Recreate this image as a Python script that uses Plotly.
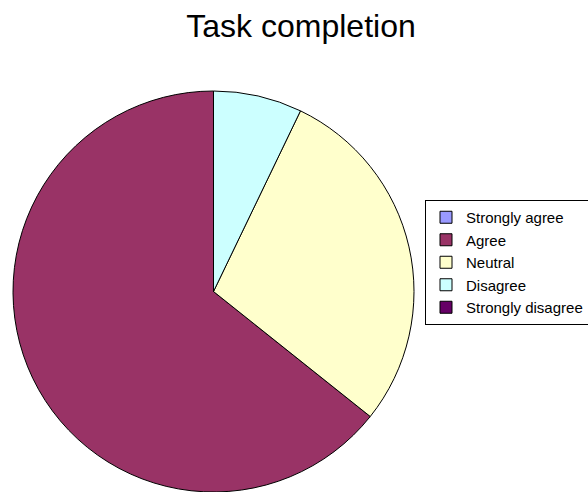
import plotly.graph_objects as go

# Survey responses for the "Task completion" question
labels = ["Strongly agree", "Agree", "Neutral", "Disagree", "Strongly disagree"]
counts = [0, 9, 4, 1, 0]
colors = ["#9999FF", "#993366", "#FFFFCC", "#CCFFFF", "#660066"]

W, H = 588, 492

fig = go.Figure(
    go.Pie(
        labels=labels,
        values=counts,
        sort=False,
        direction="counterclockwise",
        rotation=0,
        textinfo="none",
        hoverinfo="label+value+percent",
        marker=dict(colors=colors, line=dict(color="black", width=1)),
        domain=dict(x=[12.5 / W, 414.5 / W], y=[0, (H - 91) / H]),
    )
)

fig.update_layout(
    width=W,
    height=H,
    margin=dict(l=0, r=0, t=0, b=0, autoexpand=False),
    paper_bgcolor="white",
    plot_bgcolor="white",
    font=dict(family="Liberation Sans, Arial, sans-serif", color="black"),
    title=dict(
        text="Task completion",
        x=301 / W,
        xanchor="center",
        y=1 - 25.8 / H,
        yanchor="middle",
        font=dict(size=32, family="Liberation Sans, Arial, sans-serif", color="black"),
    ),
    showlegend=True,
    legend=dict(
        x=425 / W,
        y=1 - 200 / H,
        xanchor="left",
        yanchor="top",
        bordercolor="black",
        borderwidth=1,
        bgcolor="white",
        font=dict(size=15, family="Liberation Sans, Arial, sans-serif", color="black"),
        traceorder="normal",
        itemclick=False,
        itemdoubleclick=False,
    ),
)

fig.write_html("out.html")
